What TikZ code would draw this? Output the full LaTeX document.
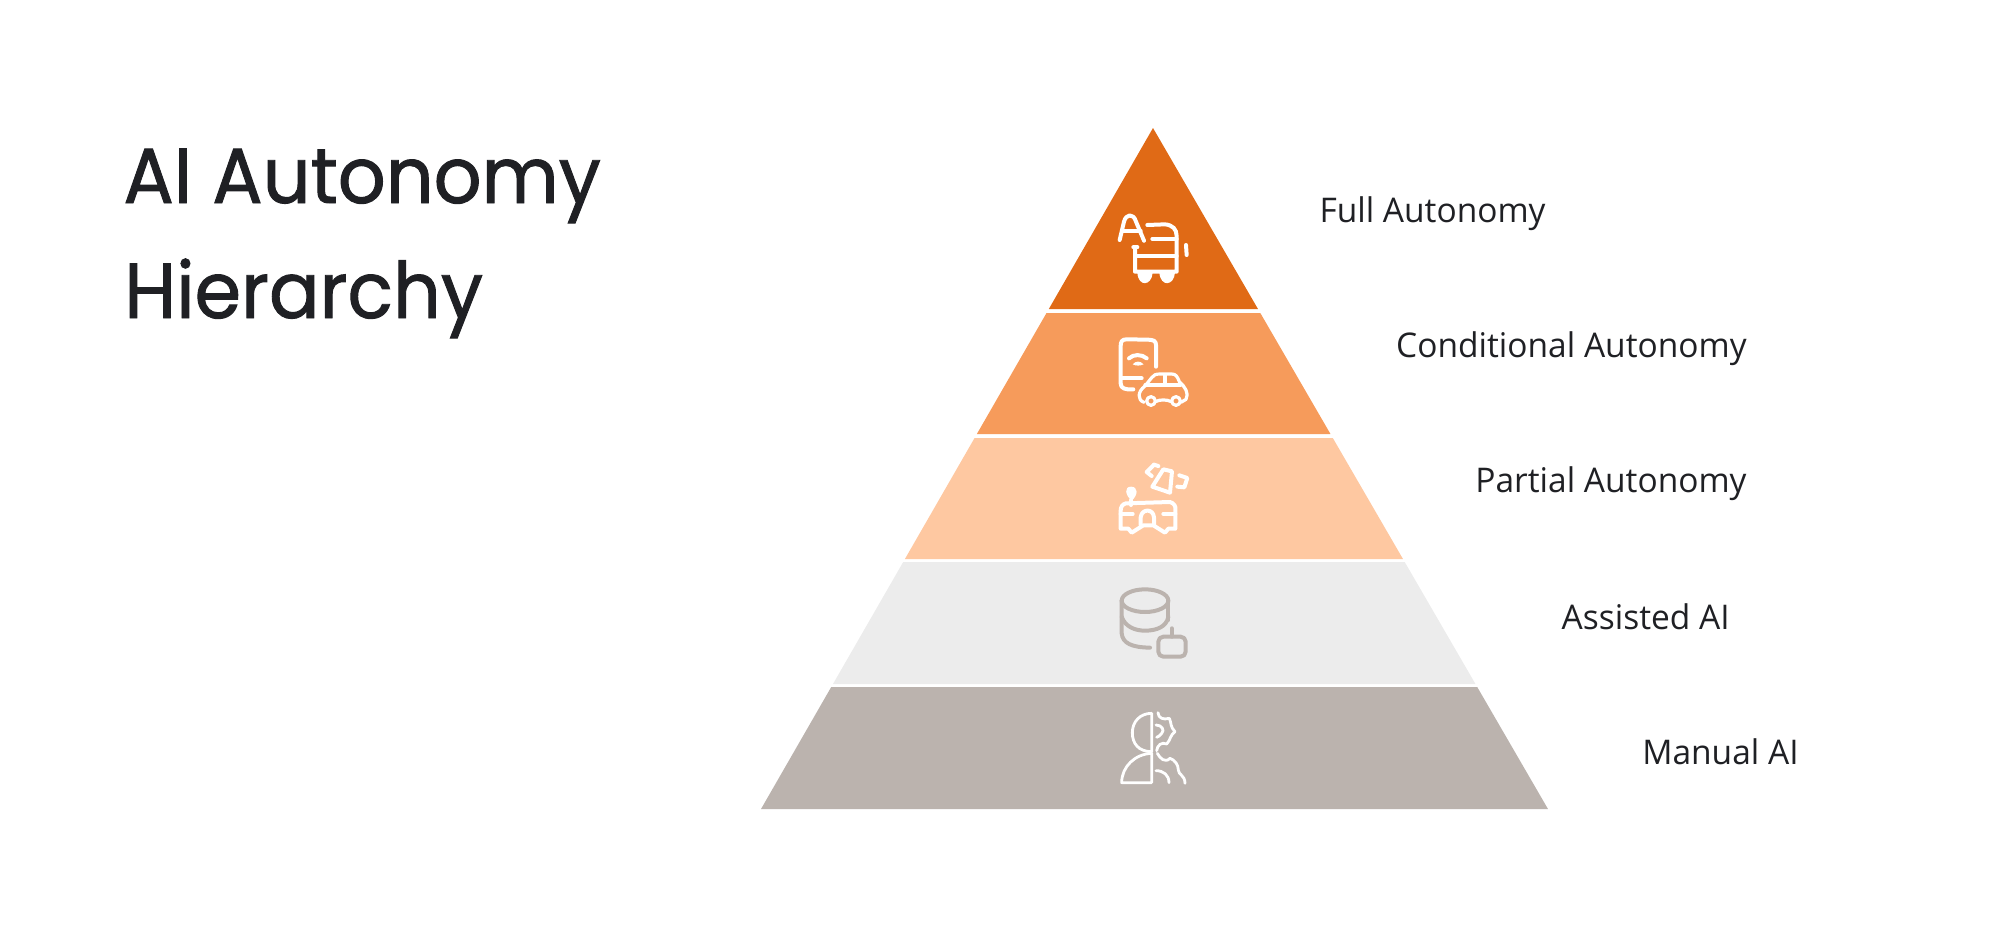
\documentclass[tikz,border=0pt]{standalone}
\usepackage{fontspec}
\usepackage{xcolor}
\setmainfont[FakeStretch=0.985]{Open Sans}
\newfontfamily\titlefont[FakeBold=1.2,FakeStretch=0.96]{Poppins}
\definecolor{inkcol}{HTML}{1F2024}
\definecolor{fullcol}{HTML}{E06A16}
\definecolor{condcol}{HTML}{F69B5B}
\definecolor{partcol}{HTML}{FEC8A1}
\definecolor{asstcol}{HTML}{ECECEC}
\definecolor{mancol}{HTML}{BBB3AE}
\tikzset{
  titletext/.style={anchor=base west,inner sep=0pt,text=inkcol,font=\titlefont\fontsize{39}{39}\selectfont},
  leveltext/.style={anchor=base east,inner sep=0pt,text=inkcol,font=\fontsize{17}{17}\selectfont},
  iconline/.style={line width=2pt,line join=round},
  zoomtop/.style={shift={(1050,110)},scale=1/3},
  zoomlow/.style={shift={(1050,440)},scale=1/3}
}

\begin{document}
\begin{tikzpicture}[x=0.5pt,y=-0.5pt,cap=round]
        \useasboundingbox (0,0) rectangle (1999,948);
        % draw the title
        \node[titletext] (titleone) at (123,203) {AI Autonomy};
        \node[titletext] (titletwo) at (124,318) {Hierarchy};
        % draw the bands of the pyramid, top to bottom
        \foreach \ytop/\ybot/\col in {
            128/309/fullcol,
            313/434/condcol,
            438/559/partcol,
            562/684/asstcol,
            687/809/mancol}
            \fill[\col] ({1153-0.5756*(\ytop-128)},\ytop) -- ({1153+0.58*(\ytop-128)},\ytop)
                -- ({1153+0.58*(\ybot-128)},\ybot) -- ({1153-0.5756*(\ybot-128)},\ybot) -- cycle;
        % draw the level names
        \foreach \name/\x/\y/\xtext in {
            full/1546/222/Full Autonomy,
            cond/1747/357/Conditional Autonomy,
            part/1747/492/Partial Autonomy,
            asst/1730/629/Assisted AI,
            manl/1799/764/Manual AI}
            \node[leveltext] (\name) at (\x,\y) {\xtext};
        % letter and bus
        \begin{scope}[zoomtop,iconline,white]
                \draw (209,390) -- (222,335) .. controls (228,312) and (250,308) .. (258,335) -- (282,392);
                \draw (220,362) -- (272,362);
                \draw (292,345) -- (345,343) .. controls (368,345) and (380,358) .. (380,378) -- (380,485) -- (255,485) -- (255,412);
                \draw (250,412) -- (262,412);
                \draw (307,387) -- (380,387);
                \draw (255,438) -- (380,438);
                \draw (408,405) -- (410,435);
                \fill (262,488) .. controls (265,532) and (305,528) .. (308,488) -- cycle;
                \fill (328,488) .. controls (332,532) and (372,528) .. (375,488) -- cycle;
        \end{scope}
        % phone and car
        \begin{scope}[zoomtop,iconline,white]
                \draw (318,770) -- (318,705) .. controls (318,692) and (310,690) .. (295,689) -- (230,688)
                    .. controls (216,688) and (212,695) .. (212,708) -- (212,820) .. controls (212,835) and (225,840) .. (250,838);
                \draw (215,805) -- (275,805);
                \draw (237,745) .. controls (250,732) and (275,732) .. (290,745);
                \fill (248,763) .. controls (258,752) and (270,752) .. (281,763) .. controls (270,768) and (258,768) .. (248,763);
                \draw[line width=1.6pt] (282,877) .. controls (262,870) and (262,845) .. (285,828) -- (305,803) .. controls (310,795) and (318,792) .. (330,792)
                    -- (365,792) .. controls (378,792) and (382,800) .. (388,815) .. controls (405,830) and (418,850) .. (408,868) -- (393,877);
                \draw[line width=1.6pt] (316,875) .. controls (330,868) and (350,868) .. (364,875);
                \draw[line width=1.6pt] (303,873) circle (13);
                \draw[line width=1.6pt] (378,873) circle (13);
                \draw[line width=1.6pt] (285,825) -- (392,825);
                \draw[line width=1.6pt] (345,795) -- (345,825);
        \end{scope}
        % dish and vehicle
        \begin{scope}[zoomlow,iconline,white]
                \fill (243,140) .. controls (265,140) and (265,165) .. (245,182) .. controls (225,165) and (222,140) .. (243,140);
                \draw (243,180) -- (243,195);
                \draw (228,190) -- (360,186) .. controls (372,190) and (378,198) .. (376,210) -- (376,266) -- (355,266) -- (345,278) -- (310,256)
                    -- (280,256) -- (245,278) -- (235,266) -- (212,266) -- (212,212) .. controls (212,200) and (218,192) .. (228,190);
                \draw (212,222) -- (248,222);
                \draw (340,222) -- (376,222);
                \draw (272,255) -- (272,232) .. controls (275,205) and (310,205) .. (312,232) -- (312,255);
                \draw (340,88) -- (366,94) -- (360,158) -- (307,140) -- cycle;
                \draw (312,74) -- (290,96) -- (305,108);
                \draw (312,74) -- (325,78);
                \draw (388,106) -- (412,114) -- (403,142) -- (382,140);
        \end{scope}
        % database and robot
        \begin{scope}[zoomlow,iconline,mancol]
                \draw (285,482) ellipse (70 and 34);
                \draw (215,482) -- (215,580) .. controls (218,610) and (245,622) .. (300,623);
                \draw (355,482) -- (355,540);
                \draw (215,530) .. controls (225,560) and (255,572) .. (285,572) .. controls (320,572) and (350,560) .. (355,530);
                \draw[rounded corners=2.5pt] (325,590) rectangle (407,650);
                \draw (365,565) -- (365,590);
        \end{scope}
        % head and gears
        \begin{scope}[zoomlow,iconline,white,line width=1.4pt]
                \draw (305,820) -- (305,935) .. controls (265,935) and (247,910) .. (247,878) .. controls (247,845) and (270,820) .. (305,820);
                \draw (305,940) -- (305,1028) -- (215,1028) .. controls (215,980) and (255,942) .. (305,940);
                \draw (324,818) .. controls (325,835) and (340,840) .. (358,835) .. controls (365,850) and (360,860) .. (375,875)
                    .. controls (360,885) and (362,900) .. (350,912) .. controls (335,905) and (322,915) .. (320,932);
                \draw (318,855) .. controls (335,855) and (345,870) .. (335,880) .. controls (330,888) and (325,890) .. (320,892);
                \draw (322,940) .. controls (330,955) and (345,970) .. (360,955) .. controls (375,960) and (385,975) .. (385,990)
                    .. controls (385,1005) and (405,1005) .. (405,1030);
                \draw (318,992) .. controls (340,992) and (357,1005) .. (357,1028);
        \end{scope}
\end{tikzpicture}
\end{document}
